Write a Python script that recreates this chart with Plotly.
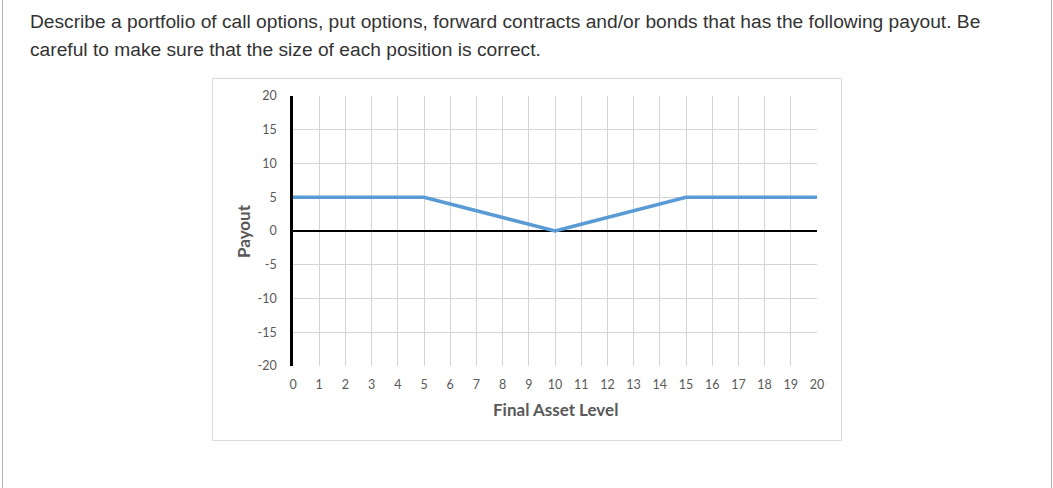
import plotly.graph_objects as go

# ---- data ----
asset_level = list(range(0, 21))
payout = [5, 5, 5, 5, 5, 5, 4, 3, 2, 1, 0, 1, 2, 3, 4, 5, 5, 5, 5, 5, 5]
y_ticks = [20, 15, 10, 5, 0, -5, -10, -15, -20]
x_ticks = list(range(0, 21))
question_line1 = ("Describe a portfolio of call options, put options, forward contracts "
                  "and/or bonds that has the following payout. Be")
question_line2 = "careful to make sure that the size of each position is correct."
x_title = "Final Asset Level"
y_title = "Payout"

# ---- layout geometry (pixels) ----
W, H = 1053, 488
ML, MR, MT, MB = 293, 236, 96, 122
PW, PH = W - ML - MR, H - MT - MB


def xp(px):
    return (px - ML) / PW


def yp(py):
    return (H - MB - py) / PH


fig = go.Figure()
fig.add_trace(go.Scatter(
    x=asset_level, y=payout, mode="lines",
    line=dict(color="#5B9BD5", width=3.5),
    hoverinfo="skip", showlegend=False,
))

tick_font = dict(family="Lato, Carlito, sans-serif", size=12.5, color="#595959")

fig.update_layout(
    width=W, height=H,
    margin=dict(l=ML, r=MR, t=MT, b=MB, pad=0),
    paper_bgcolor="white", plot_bgcolor="white",
    showlegend=False,
    xaxis=dict(
        range=[0, 20], tickvals=x_ticks, ticktext=[str(v) for v in x_ticks],
        showgrid=True, gridcolor="#d4d4d4", gridwidth=1,
        zeroline=False, showline=False, ticks="", ticklabelstandoff=9,
        tickfont=tick_font, fixedrange=True,
    ),
    yaxis=dict(
        range=[-20, 20], tickvals=y_ticks, ticktext=[str(v) for v in y_ticks],
        showgrid=True, gridcolor="#d4d4d4", gridwidth=1,
        zeroline=True, zerolinecolor="black", zerolinewidth=2,
        showline=True, linecolor="black", linewidth=2.5,
        ticks="", ticklabelstandoff=11,
        tickfont=tick_font, fixedrange=True,
    ),
    shapes=[
        # chart area box
        dict(type="rect", xref="paper", yref="paper",
             x0=xp(212.5), x1=xp(841.5), y0=yp(78.5), y1=yp(440.5),
             line=dict(color="#d9d9d9", width=1), layer="below"),
        # outer page borders
        dict(type="line", xref="paper", yref="paper",
             x0=xp(2.5), x1=xp(2.5), y0=yp(0), y1=yp(H),
             line=dict(color="#b0b0b0", width=1)),
        dict(type="line", xref="paper", yref="paper",
             x0=xp(1051.5), x1=xp(1051.5), y0=yp(0), y1=yp(H),
             line=dict(color="#b0b0b0", width=1)),
    ],
    annotations=[
        dict(text=question_line1, xref="paper", yref="paper",
             x=xp(28), y=yp(21.5), xanchor="left", yanchor="middle",
             showarrow=False,
             font=dict(family="Arial, Liberation Sans, sans-serif", size=19.2, color="#333333")),
        dict(text=question_line2, xref="paper", yref="paper",
             x=xp(28), y=yp(49), xanchor="left", yanchor="middle",
             showarrow=False,
             font=dict(family="Arial, Liberation Sans, sans-serif", size=19.2, color="#333333")),
        dict(text="<b>" + x_title + "</b>", xref="paper", yref="paper",
             x=xp(555), y=yp(409), xanchor="center", yanchor="middle",
             showarrow=False,
             font=dict(family="Lato, Carlito, sans-serif", size=17, color="#595959")),
        dict(text="<b>" + y_title + "</b>", xref="paper", yref="paper",
             x=xp(243), y=yp(231), xanchor="center", yanchor="middle",
             textangle=-90, showarrow=False,
             font=dict(family="Lato, Carlito, sans-serif", size=17, color="#595959")),
    ],
)

fig.write_html("out.html", config={"displayModeBar": False},
               post_script="document.body.style.margin='0px';")
